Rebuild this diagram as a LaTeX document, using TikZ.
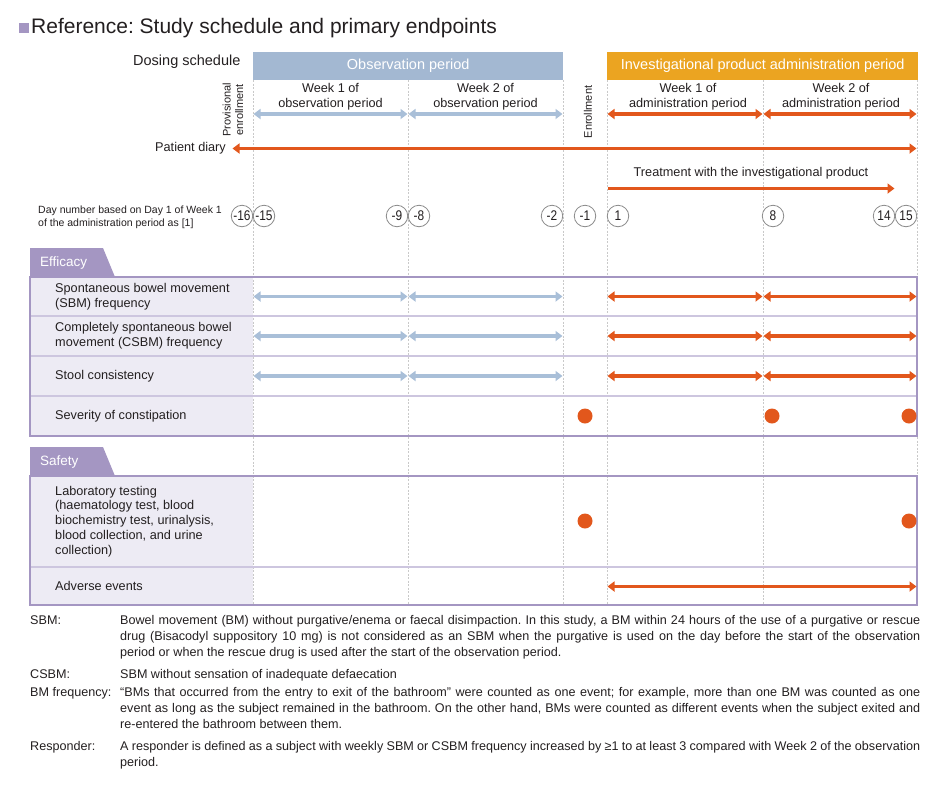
\documentclass[tikz,border=0pt]{standalone}
\usepackage{fontspec}
\setmainfont{Liberation Sans}
\newfontfamily\narrowfont[FakeStretch=0.85]{Liberation Sans}
\usetikzlibrary{arrows.meta}
\definecolor{txt}{HTML}{231F20}
\definecolor{bluehdr}{HTML}{A3B8D2}
\definecolor{bluea}{HTML}{A9BFD8}
\definecolor{orangehdr}{HTML}{EBA421}
\definecolor{orangea}{HTML}{E2571C}
\definecolor{purp}{HTML}{A496C2}
\definecolor{purpfill}{HTML}{EDEBF4}
\definecolor{sepc}{HTML}{CDC6DF}
\definecolor{gridc}{HTML}{C9C9C9}
\definecolor{circc}{HTML}{8A8A8A}
\frenchspacing
\begin{document}
\begin{tikzpicture}[x=1pt,y=-1pt,
  lbl/.style={font=\fontsize{12.7}{15}\selectfont, text=txt, inner sep=0pt},
  rowlbl/.style={lbl, anchor=west, align=left},
  hdr/.style={font=\fontsize{14.5}{17}\selectfont, text=white, inner sep=0pt, minimum height=28pt, anchor=north west},
  vline/.style={draw=gridc, line width=0.6pt, dash pattern=on 2pt off 1.5pt},
  arrb/.style={draw=bluea, line width=3.2pt, <->, >={Triangle[length=7pt,width=10pt]}, shorten <=0.5pt, shorten >=0.5pt},
  arro/.style={draw=orangea, line width=3.2pt, <->, >={Triangle[length=7pt,width=10pt]}, shorten <=0.5pt, shorten >=0.5pt},
  daycirc/.style={circle, draw=circc, line width=0.8pt, fill=white, minimum size=21.5pt, inner sep=0pt, font=\narrowfont\fontsize{14}{14}\selectfont, text=txt},
  dot/.style={circle, fill=orangea, minimum size=15pt, inner sep=0pt},
  tabtxt/.style={font=\fontsize{13.5}{16}\selectfont, text=white, anchor=west, inner sep=0pt},
  sepline/.style={draw=sepc, line width=1.6pt},
  boxline/.style={draw=purp, line width=2.6pt},
  fnt/.style={font=\fontsize{12.6}{15}\selectfont, text=txt, inner sep=0pt, anchor=base west}
]
\useasboundingbox (0,0) rectangle (940,788);

% title
\fill[purp] (19,23) rectangle (29,33);
\node[anchor=west, font=\fontsize{21}{24}\selectfont, text=txt, inner sep=0pt] (title) at (31,28.5) {Reference: Study schedule and primary endpoints};

% column coordinates
\coordinate (ca) at (253,0);
\coordinate (cb) at (408,0);
\coordinate (cc) at (563,0);
\coordinate (cd) at (607,0);
\coordinate (ce) at (763,0);
\coordinate (cf) at (917,0);

% left column fills
\fill[purpfill] (30,277) rectangle (253,436);
\fill[purpfill] (30,476) rectangle (253,605);

% dashed grid lines
\foreach \x in {253,408,563,607,763,917} \draw[vline] (\x,80) -- (\x,605);

% headers
\node[lbl, anchor=west, font=\fontsize{14.5}{17}\selectfont] (dosing) at (133,62) {Dosing schedule};
\node[hdr, fill=bluehdr, minimum width=310pt] (obs) at (253,52) {Observation period};
\node[hdr, fill=orangehdr, minimum width=311pt] (inv) at (607,52) {Investigational product administration period};

\node[lbl, align=center] (w1o) at (330.5,96.5) {Week 1 of\\observation period};
\node[lbl, align=center] (w2o) at (485.5,96.5) {Week 2 of\\observation period};
\node[lbl, align=center] (w1a) at (688,96.5) {Week 1 of\\administration period};
\node[lbl, align=center] (w2a) at (841,96.5) {Week 2 of\\administration period};

\node[lbl, rotate=90, align=center, font=\fontsize{11}{12.5}\selectfont] (prov) at (233,110) {Provisional\\enrollment};
\node[lbl, rotate=90, font=\fontsize{11}{12.5}\selectfont] (enr) at (588,112) {Enrollment};

% week arrows
\coordinate (rw) at (0,114);
\draw[arrb] (ca|-rw) -- (cb|-rw);
\draw[arrb] (cb|-rw) -- (cc|-rw);
\draw[arro] (cd|-rw) -- (ce|-rw);
\draw[arro] (ce|-rw) -- (cf|-rw);

% patient diary
\node[lbl, anchor=west] (diary) at (155,148.5) {Patient diary};
\coordinate (pdL) at (232,148.5);
\draw[arro] (pdL) -- (cf|-pdL);

% treatment
\node[lbl] (treat) at (751,173.5) {Treatment with the investigational product};
\coordinate (trL) at (607,188.5);
\coordinate (trR) at (895,188.5);
\draw[arro, -{Triangle[length=7pt,width=10pt]}] (trL) -- (trR);

% day numbers
\node[lbl, anchor=west, align=left, font=\fontsize{10.5}{13}\selectfont] (daytxt) at (38,217.5) {Day number based on Day 1 of Week 1\\of the administration period as [1]};
\node[daycirc] (dm16) at (242,216) {-16};
\node[daycirc] (dm15) at (264,216) {-15};
\node[daycirc] (dm9) at (397,216) {-9};
\node[daycirc] (dm8) at (419,216) {-8};
\node[daycirc] (dm2) at (552,216) {-2};
\node[daycirc] (dm1) at (585,216) {-1};
\node[daycirc] (dp1) at (618,216) {1};
\node[daycirc] (dp8) at (773,216) {8};
\node[daycirc] (dp14) at (884,216) {14};
\node[daycirc] (dp15) at (906,216) {15};

% Efficacy block
\fill[purp] (30,248) -- (103,248) -- (115,277) -- (30,277) -- cycle;
\node[tabtxt] (efftab) at (40,263) {Efficacy};
\draw[sepline] (30,316) -- (917,316);
\draw[sepline] (30,356) -- (917,356);
\draw[sepline] (30,396) -- (917,396);
\draw[boxline] (30,277) rectangle (917,436);

\node[rowlbl] (sbm) at (55,296.5) {Spontaneous bowel movement\\(SBM) frequency};
\node[rowlbl] (csbm) at (55,336) {Completely spontaneous bowel\\movement (CSBM) frequency};
\node[rowlbl] (stool) at (55,376) {Stool consistency};
\node[rowlbl] (sev) at (55,416) {Severity of constipation};

\foreach \y/\n in {296.5/r1,336/r2,376/r3} {
  \coordinate (\n) at (0,\y);
  \draw[arrb] (ca|-\n) -- (cb|-\n);
  \draw[arrb] (cb|-\n) -- (cc|-\n);
  \draw[arro] (cd|-\n) -- (ce|-\n);
  \draw[arro] (ce|-\n) -- (cf|-\n);
}
\node[dot] (sev1) at (585,416) {};
\node[dot] (sev2) at (772,416) {};
\node[dot] (sev3) at (909,416) {};

% Safety block
\fill[purp] (30,447) -- (103,447) -- (115,476) -- (30,476) -- cycle;
\node[tabtxt] (saftab) at (40,462) {Safety};
\draw[sepline] (30,567) -- (917,567);
\draw[boxline] (30,476) rectangle (917,605);

\node[rowlbl, font=\fontsize{12.7}{14.8}\selectfont] (lab) at (55,521.5) {Laboratory testing\\(haematology test, blood\\biochemistry test, urinalysis,\\blood collection, and urine\\collection)};
\node[rowlbl] (ae) at (55,586) {Adverse events};
\node[dot] (lab1) at (585,521) {};
\node[dot] (lab2) at (909,521) {};
\coordinate (rae) at (0,586.5);
\draw[arro] (cd|-rae) -- (cf|-rae);

% footnotes
\node[fnt] (fsbm) at (30,624) {SBM:};
\node[fnt] (fsbm1) at (120,624) {\makebox[800pt][s]{Bowel movement (BM) without purgative/enema or faecal disimpaction. In this study, a BM within 24 hours of the use of a purgative or rescue}};
\node[fnt] (fsbm2) at (120,640) {\makebox[800pt][s]{drug (Bisacodyl suppository 10 mg) is not considered as an SBM when the purgative is used on the day before the start of the observation}};
\node[fnt] (fsbm3) at (120,656) {period or when the rescue drug is used after the start of the observation period.};

\node[fnt] (fcsbm) at (30,678) {CSBM:};
\node[fnt] (fcsbm1) at (120,678) {SBM without sensation of inadequate defaecation};

\node[fnt] (fbm) at (30,696) {BM frequency:};
\node[fnt] (fbm1) at (120,696) {\makebox[800pt][s]{“BMs that occurred from the entry to exit of the bathroom” were counted as one event; for example, more than one BM was counted as one}};
\node[fnt] (fbm2) at (120,712) {\makebox[800pt][s]{event as long as the subject remained in the bathroom. On the other hand, BMs were counted as different events when the subject exited and}};
\node[fnt] (fbm3) at (120,728) {re-entered the bathroom between them.};

\node[fnt] (fresp) at (30,750) {Responder:};
\node[fnt] (fresp1) at (120,750) {\makebox[800pt][s]{A responder is defined as a subject with weekly SBM or CSBM frequency increased by ≥1 to at least 3 compared with Week 2 of the observation}};
\node[fnt] (fresp2) at (120,766) {period.};
\end{tikzpicture}
\end{document}
